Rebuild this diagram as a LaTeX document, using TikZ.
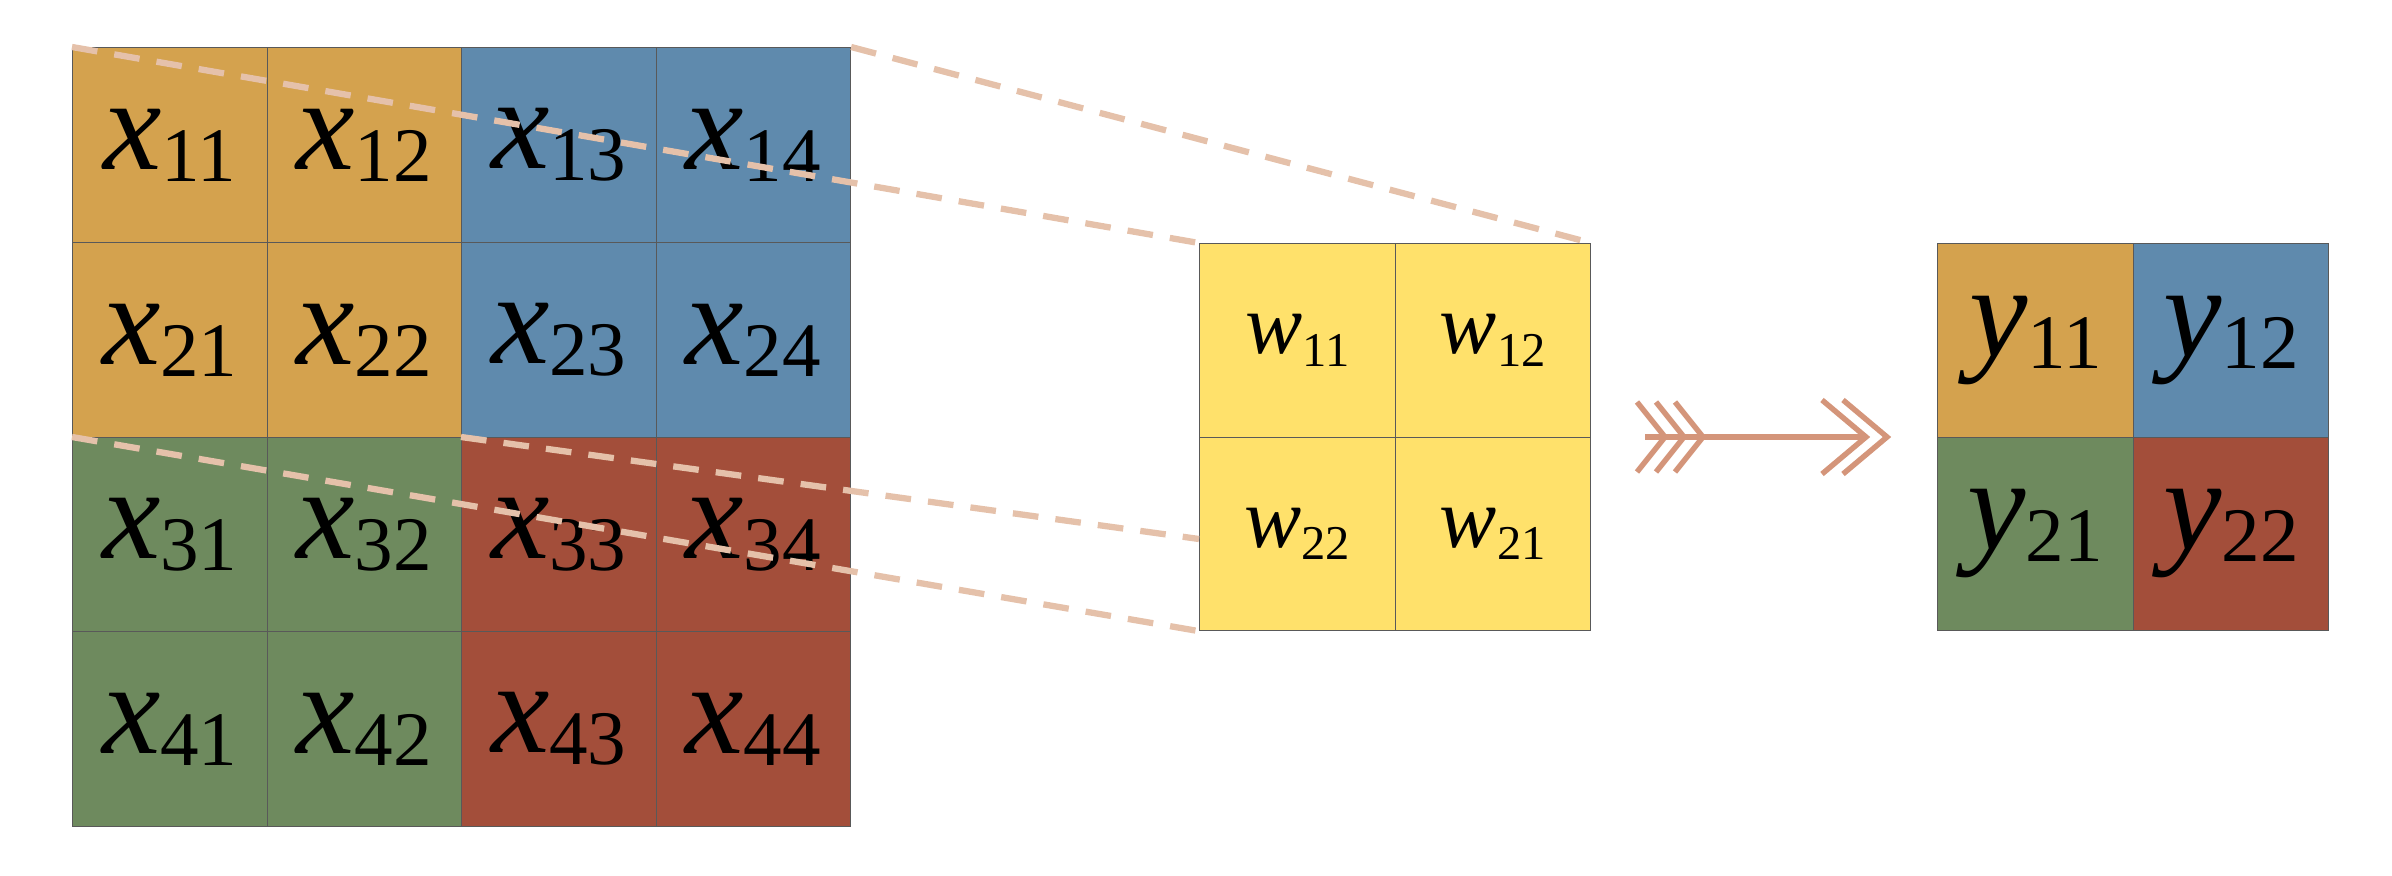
\documentclass[tikz,border=0pt]{standalone}
\usepackage{fontspec}
\setmainfont{Liberation Serif}
\definecolor{cO}{HTML}{D4A24E}
\definecolor{cB}{HTML}{5F8AAD}
\definecolor{cG}{HTML}{6E8A5E}
\definecolor{cR}{HTML}{A34E3A}
\definecolor{cY}{HTML}{FFE16B}
\definecolor{cD}{HTML}{E5C1AA}
\definecolor{cA}{HTML}{D4957A}
\newcommand{\bigv}[2]{{\fontsize{46}{46}\selectfont\itshape #1}\raisebox{-0.42em}{\fontsize{27}{27}\selectfont #2}}
\newcommand{\smallv}[2]{{\fontsize{30}{30}\selectfont\itshape #1}\raisebox{-0.45em}{\fontsize{17}{17}\selectfont #2}}
\begin{document}
\begin{tikzpicture}[x=0.35pt,y=-0.35pt,
  cell/.style={draw=black!65,line width=0.4pt,minimum width=194.5*0.35pt,minimum height=195*0.35pt,inner sep=0,anchor=north west},
  wcell/.style={cell,minimum width=195.5*0.35pt,minimum height=193.5*0.35pt},
  projline/.style={draw=cD,line width=2.2pt,dash pattern=on 9pt off 6pt},
  arr/.style={draw=cA,line width=1.9pt}]
\useasboundingbox (0,0) rectangle (2392,876);
% input grid
\foreach \r/\yy in {1/47,2/242,3/437,4/631}{
  \foreach \c/\xx in {1/72,2/266.5,3/461,4/655.5}{
    \pgfmathtruncatemacro{\q}{(\r>2)*2+(\c>2)}
    \ifcase\q \def\cc{cO}\or \def\cc{cB}\or \def\cc{cG}\or \def\cc{cR}\fi
    \node[cell,fill=\cc] (x\r\c) at (\xx,\yy) {\bigv{x}{\r\c}};
  }}
% kernel
\node[wcell,fill=cY] (w11) at (1199,243) {\smallv{w}{11}};
\node[wcell,fill=cY] (w12) at (1394.5,243) {\smallv{w}{12}};
\node[wcell,fill=cY] (w22) at (1199,436.5) {\smallv{w}{22}};
\node[wcell,fill=cY] (w21) at (1394.5,436.5) {\smallv{w}{21}};
% output
\node[wcell,fill=cO] (y11) at (1937,243) {\bigv{y}{11}};
\node[wcell,fill=cB] (y12) at (2132.5,243) {\bigv{y}{12}};
\node[wcell,fill=cG] (y21) at (1937,436.5) {\bigv{y}{21}};
\node[wcell,fill=cR] (y22) at (2132.5,436.5) {\bigv{y}{22}};
% projection lines
\coordinate (k1) at (1199,539);
\draw[projline] (x11.north west) -- (w11.north west);
\draw[projline] (x14.north east) -- (w12.north east);
\draw[projline] (x31.north west) -- (w22.south west);
\draw[projline] (x33.north west) -- (k1);
% arrow
\coordinate (a0) at (1645,437);
\coordinate (a1) at (1884,437);
\draw[arr,line width=2.2pt] (a0) -- ([xshift=-6]a1);
\foreach \s in {1637,1656,1675}{\draw[arr] (\s,402) -- (\s+28,437) -- (\s,472);}
\foreach \s in {1822,1843}{\draw[arr] (\s,400) -- (\s+44,437) -- (\s,474);}
\end{tikzpicture}
\end{document}
